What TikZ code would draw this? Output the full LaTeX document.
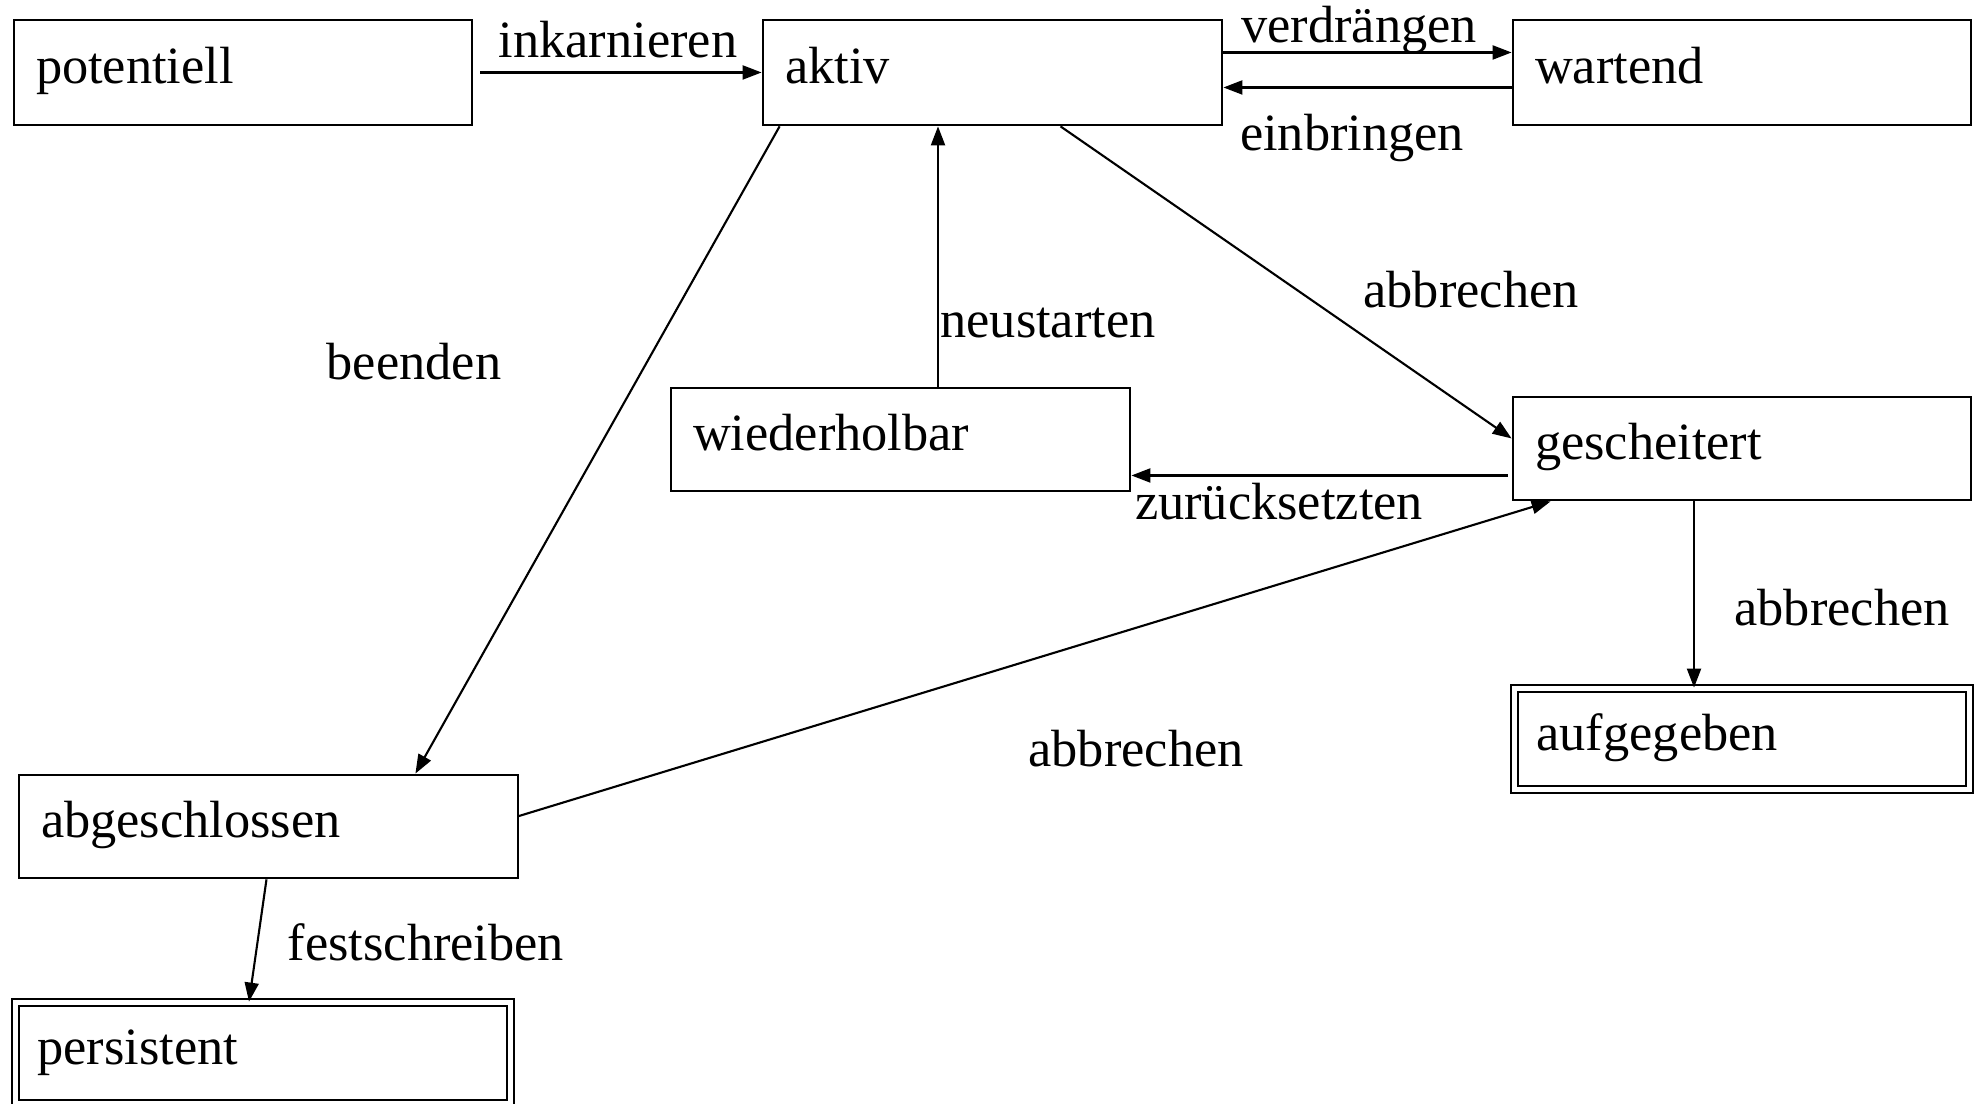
\documentclass[tikz,border=0pt]{standalone}
\usepackage{fontspec}
\setmainfont{Liberation Serif}
\usetikzlibrary{arrows.meta}

\begin{document}
\begin{tikzpicture}[
  font=\fontsize{14.9}{17}\selectfont,
  state/.style={draw, line width=0.8pt, inner xsep=0.22cm, align=left,
    text height=0.85em, text depth=0.22em},
  final/.style={state, double, line width=0.5pt, double distance=1.6pt},
  lbl/.style={inner sep=0pt, text height=0.7em, text depth=0.22em},
  trans/.style={-{Triangle[length=0.19cm,width=0.14cm]}, line width=0.6pt}
]
  \useasboundingbox (0,0) rectangle (19.75,11.04);

  % states
  \node[state, text width=4.14cm, minimum height=1.05cm] (potentiell) at (2.43,10.315) {potentiell};
  \node[state, text width=4.15cm, minimum height=1.05cm] (aktiv) at (9.925,10.315) {aktiv};
  \node[state, text width=4.14cm, minimum height=1.05cm] (wartend) at (17.42,10.315) {wartend};
  \node[state, text width=4.15cm, minimum height=1.03cm] (wiederholbar) at (9.005,6.645) {wiederholbar};
  \node[state, text width=4.14cm, minimum height=1.03cm] (gescheitert) at (17.42,6.555) {gescheitert};
  \node[final, text width=4.11cm, minimum height=1.01cm] (aufgegeben) at (17.42,3.65) {aufgegeben};
  \node[state, text width=4.55cm, minimum height=1.03cm] (abgeschlossen) at (2.685,2.775) {abgeschlossen};
  \node[final, text width=4.51cm, minimum height=1.01cm] (persistent) at (2.63,0.51) {persistent};

  % transitions
  \draw[trans] ([xshift=2pt]potentiell.east) -- (aktiv.west);
  \draw[trans] ([yshift=0.2cm]aktiv.east) -- ([yshift=0.2cm]wartend.west);
  \draw[trans] ([yshift=-0.15cm]wartend.west) -- ([yshift=-0.15cm]aktiv.east);
  \draw[trans] ([xshift=0.18cm]aktiv.south west) -- ([xshift=-1.04cm]abgeschlossen.north east);
  \draw[trans] ([xshift=0.68cm]aktiv.south) -- ([yshift=0.1cm]gescheitert.west);
  \draw[trans] ([xshift=0.375cm]wiederholbar.north) -- ([xshift=-0.545cm]aktiv.south);
  \draw[trans] ([xshift=-0.04cm,yshift=-0.27cm]gescheitert.west) -- ([yshift=-0.27cm]gescheitert.west -| wiederholbar.east);
  \draw[trans] ([xshift=-0.02cm,yshift=0.1cm]abgeschlossen.east) -- ([xshift=0.39cm]gescheitert.south west);
  \draw[trans] ([xshift=-0.48cm]gescheitert.south) -- ([xshift=-0.48cm]aufgegeben.north);
  \draw[trans] ([xshift=-0.02cm]abgeschlossen.south) -- ([xshift=-0.14cm]persistent.north);

  % labels
  \node[lbl] (inkarnieren) at (6.18,10.55) {inkarnieren};
  \node[lbl] (verdraengen) at (13.59,10.70) {verdrängen};
  \node[lbl] (einbringen) at (13.52,9.62) {einbringen};
  \node[lbl] (beenden) at (4.14,7.33) {beenden};
  \node[lbl] (abbrechenA) at (14.71,8.05) {abbrechen};
  \node[lbl] (neustarten) at (10.48,7.75) {neustarten};
  \node[lbl] (zuruecksetzten) at (12.79,5.93) {zurücksetzten};
  \node[lbl] (abbrechenB) at (11.36,3.46) {abbrechen};
  \node[lbl] (abbrechenC) at (18.42,4.87) {abbrechen};
  \node[lbl] (festschreiben) at (4.26,1.52) {festschreiben};
\end{tikzpicture}
\end{document}
